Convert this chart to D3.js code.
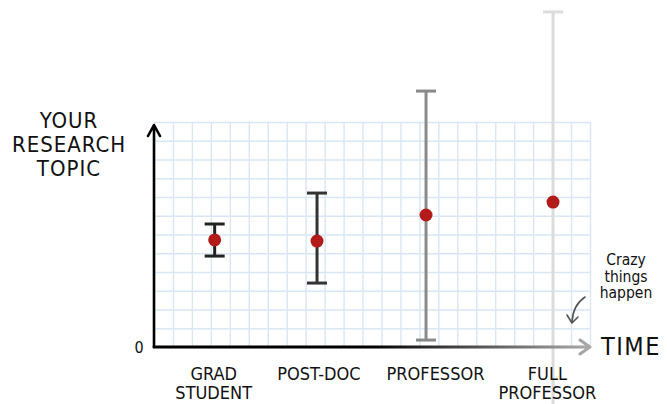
<!DOCTYPE html>
<html>
<head>
<meta charset="utf-8">
<script src="https://cdn.jsdelivr.net/npm/d3@7"></script>
<style>
  html, body { margin: 0; padding: 0; background: #fff; }
  svg { display: block; }
  text { font-family: "DejaVu Sans Condensed", "DejaVu Sans", sans-serif; fill: #111; }
</style>
</head>
<body>
<svg id="chart" width="667" height="404"></svg>
<script>
// career stages along the time axis (in grid columns)
const stageNames = [["GRAD", "STUDENT"], ["POST-DOC"], ["PROFESSOR"], ["FULL", "PROFESSOR"]];
const stageTime = [3.2, 8.6, 14.35, 21.05];
const labelTime = [3.15, 8.7, 14.85, 20.75];

// research topic: middle value and spread (in grid rows)
const topicMid = [5.71, 5.65, 7.04, 7.73];
const topicLow = [4.85, 3.41, 0.37, -3.2];
const topicHigh = [6.56, 8.21, 13.65, 17.87];

const yLabelLines = ["YOUR", "RESEARCH", "TOPIC"];
const noteLines = ["Crazy", "things", "happen"];

const barShades = ["#222", "#333", "#8a8a8a", "#dcdcdc"];

const svg = d3.select("#chart");
const plotLeft = 154, plotRight = 590, plotTop = 122, plotBottom = 347;

const x = d3.scaleLinear().domain([0, 23]).range([plotLeft, plotRight]);
const y = d3.scaleLinear().domain([0, 12]).range([plotBottom, plotTop]);

// graph paper
const grid = svg.append("g");
grid.append("g").attr("transform", `translate(0, ${plotBottom})`)
  .call(d3.axisBottom(x).tickValues(d3.range(0, 24)).tickSize(-(plotBottom - plotTop)).tickFormat(""))
  .call(g => g.select(".domain").remove());
grid.append("g").attr("transform", `translate(${plotLeft}, 0)`)
  .call(d3.axisLeft(y).tickValues(d3.range(0, 13)).tickSize(-(plotRight - plotLeft)).tickFormat(""))
  .call(g => g.select(".domain").remove());
grid.selectAll("line").attr("stroke", "#d9e6f5").attr("stroke-width", 1.4);

// error bars
const bars = svg.append("g").selectAll("g").data(stageTime).enter().append("g")
  .attr("stroke", (d, i) => barShades[i]).attr("stroke-width", 3).attr("fill", "none");
bars.append("line")
  .attr("x1", d => x(d)).attr("x2", d => x(d))
  .attr("y1", (d, i) => y(topicLow[i])).attr("y2", (d, i) => y(topicHigh[i]));
bars.append("line")
  .attr("x1", d => x(d) - 10).attr("x2", d => x(d) + 10)
  .attr("y1", (d, i) => y(topicHigh[i])).attr("y2", (d, i) => y(topicHigh[i]));
bars.filter((d, i) => topicLow[i] >= 0).append("line")
  .attr("x1", d => x(d) - 10).attr("x2", d => x(d) + 10)
  .attr("y1", (d, i) => y(topicLow[i])).attr("y2", (d, i) => y(topicLow[i]));

// axes
const defs = svg.append("defs");
const grad = defs.append("linearGradient").attr("id", "fade")
  .attr("gradientUnits", "userSpaceOnUse")
  .attr("x1", plotLeft).attr("x2", plotRight).attr("y1", 0).attr("y2", 0);
grad.append("stop").attr("offset", "0.5").attr("stop-color", "#000");
grad.append("stop").attr("offset", "1").attr("stop-color", "#aaa");

svg.append("path")
  .attr("d", `M${plotLeft},${plotBottom}H${plotRight}M${plotRight - 10},${plotBottom - 7}L${plotRight},${plotBottom}L${plotRight - 10},${plotBottom + 7}`)
  .attr("fill", "none").attr("stroke", "url(#fade)").attr("stroke-width", 3)
  .attr("stroke-linejoin", "round").attr("stroke-linecap", "round");
svg.append("path")
  .attr("d", `M${plotLeft},${plotBottom}V${plotTop + 3}M${plotLeft - 6},${plotTop + 14}L${plotLeft},${plotTop + 3}L${plotLeft + 6},${plotTop + 14}`)
  .attr("fill", "none").attr("stroke", "#000").attr("stroke-width", 2.6)
  .attr("stroke-linejoin", "round").attr("stroke-linecap", "round");

// points
svg.append("g").selectAll("circle").data(stageTime).enter().append("circle")
  .attr("cx", d => x(d)).attr("cy", (d, i) => y(topicMid[i]))
  .attr("r", 6.5).attr("fill", "#b31b1b");

// stage labels
const labels = svg.append("g").selectAll("text").data(labelTime).enter().append("text")
  .attr("x", d => x(d)).attr("y", 380)
  .attr("text-anchor", "middle").attr("font-size", 18);
labels.selectAll("tspan").data((d, i) => stageNames[i].map(s => ({ s, d }))).enter().append("tspan")
  .attr("x", t => x(t.d)).attr("dy", (t, j) => j ? 19 : 0).text(t => t.s);

svg.append("text").attr("x", 139).attr("y", 353).attr("text-anchor", "middle")
  .attr("font-size", 16).text("0");
svg.append("text").attr("x", 601).attr("y", 355).attr("font-size", 25)
  .attr("letter-spacing", 1.5).text("TIME");

svg.append("text").attr("x", 69).attr("y", 128).attr("text-anchor", "middle").attr("font-size", 22)
  .attr("letter-spacing", 1)
  .selectAll("tspan").data(yLabelLines).enter().append("tspan")
  .attr("x", 69).attr("dy", (d, i) => i ? 24 : 0).text(d => d);

// annotation
svg.append("text").attr("x", 626).attr("y", 265).attr("text-anchor", "middle").attr("font-size", 15.5)
  .selectAll("tspan").data(noteLines).enter().append("tspan")
  .attr("x", 626).attr("dy", (d, i) => i ? 16.5 : 0).text(d => d);
svg.append("path")
  .attr("d", "M585,297 Q573,305 572,322 M567,315 L572,323 L578,317")
  .attr("fill", "none").attr("stroke", "#555").attr("stroke-width", 1.6)
  .attr("stroke-linecap", "round").attr("stroke-linejoin", "round");
</script>
</body>
</html>
